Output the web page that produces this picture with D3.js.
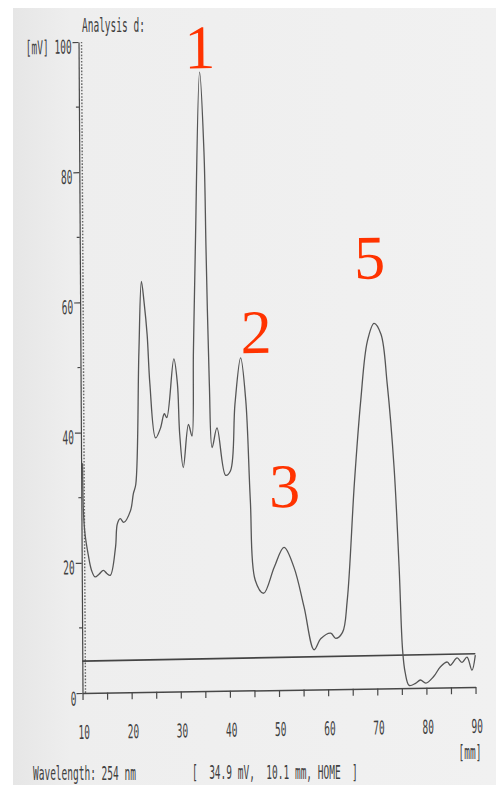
<!DOCTYPE html>
<html>
<head>
<meta charset="utf-8">
<script src="https://cdn.jsdelivr.net/npm/d3@7"></script>
<style>
  html, body { margin: 0; padding: 0; background: #fff; }
  svg { display: block; }
  .prn { font-family: "DejaVu Sans Mono", "Liberation Mono", monospace; font-size: 19px; fill: #3f3f3f; white-space: pre; }
  .peak { font-family: "Liberation Serif", "DejaVu Serif", serif; font-size: 62px; fill: #ff3300; }
</style>
</head>
<body>
<div id="chart"></div>
<script>
// chromatogram trace (retention in mm, signal in mV)
const retentionMM = [10.3, 10.4, 10.7, 11.3, 12.0, 12.7, 13.5, 14.4, 15.1, 15.8, 16.9, 17.3, 17.9, 18.6, 20.0, 20.6, 21.1,
  21.9, 22.5, 23.0, 23.6, 24.1, 25.2, 26.2, 27.0, 27.5, 29.0, 29.7, 30.1, 30.8, 31.9, 32.6, 33.0, 33.5, 34.6, 35.4,
  35.7, 36.2, 36.7, 37.7, 39.4, 40.4, 41.4, 42.6, 43.6, 44.4, 45.3, 47.0, 49.2, 51.2, 53.2, 55.2, 57.2, 58.6, 60.6,
  61.6, 63.0, 64.0, 65.6, 67.0, 68.4, 69.8, 71.2, 72.4, 73.7, 74.6, 75.2, 75.7, 76.5, 77.8, 78.8, 79.9, 81.5, 82.9,
  84.3, 84.9, 86.3, 87.3, 88.3, 89.3, 90.0];
const signalMV = [35.3, 28.1, 24.5, 21.4, 18.8, 17.8, 18.2, 18.8, 18.3, 18.0, 22.3, 25.9, 26.7, 26.1, 27.9, 30.5, 31.9,
  52.2, 63.1, 60.0, 54.9, 47.3, 39.0, 40.5, 42.7, 42.1, 51.1, 47.3, 39.6, 34.4, 41.0, 39.2, 52.2, 67.5, 95.1, 82.7,
  67.5, 47.2, 37.4, 40.4, 33.1, 33.8, 44.1, 51.1, 44.5, 29.2, 16.9, 14.9, 18.9, 21.9, 18.8, 12.7, 6.1, 7.8, 8.6,
  7.8, 8.7, 13.6, 31.6, 44.3, 53.3, 56.1, 54.4, 46.8, 33.9, 18.6, 5.9, 2.4, 0.4, 0.7, 1.2, 0.7, 1.7, 3.2,
  3.9, 3.4, 4.5, 3.8, 4.6, 2.6, 4.9];

// integration baseline drawn by the recorder
const baselineMM = [10, 90];
const baselineMV = [4.9, 5.1];

// axis ticks
const xTicks = [10, 15, 20, 25, 30, 35, 40, 45, 50, 55, 60, 65, 70, 75, 80, 85, 90];
const xLabels = [10, 20, 30, 40, 50, 60, 70, 80, 90];
const yMajor = [0, 20, 40, 60, 80, 100];
const yMinor = [10, 30, 50, 70, 90];

// peak numbers written on the print
const peakNames = ["1", "2", "3", "5"];
const peakMM = [34.7, 45.8, 51.4, 69.0];
const peakMV = [95.7, 51.8, 28.1, 63.0];

const W = 496, H = 785;
const svg = d3.select("#chart").append("svg").attr("width", W).attr("height", H);

// paper
const defs = svg.append("defs");
const grad = defs.append("linearGradient").attr("id", "paper").attr("x1", 0).attr("x2", 1);
grad.append("stop").attr("offset", "0%").attr("stop-color", "#e6e6e6");
grad.append("stop").attr("offset", "12%").attr("stop-color", "#eeeeee");
grad.append("stop").attr("offset", "100%").attr("stop-color", "#f1f1f1");
svg.append("rect").attr("x", 13).attr("y", 8).attr("width", W - 13).attr("height", H - 8).attr("fill", "url(#paper)");

const x = d3.scaleLinear().domain([10, 90]).range([0, 393]);
const y = d3.scaleLinear().domain([0, 100]).range([0, -651]);

// the scan is a little skewed, so the whole plot sits in a sheared frame
const plot = svg.append("g").attr("transform", "matrix(1,-0.0153,0.0061,1,82.5,693)");

const ink = "#474747";

// x axis
const xAxis = plot.append("g")
  .call(d3.axisBottom(x).tickValues(xTicks).tickSize(7).tickSizeOuter(0)
    .tickFormat(d => xLabels.includes(d) ? d : ""));
xAxis.select(".domain").attr("stroke", ink).attr("stroke-width", 1.5);
xAxis.selectAll(".tick line").attr("stroke", ink).attr("stroke-width", 1.2);
xAxis.selectAll(".tick text")
  .attr("class", "prn").attr("y", 0).attr("dy", null)
  .attr("transform", "translate(1,46) scale(0.5,1)");

// y axis
const yAxis = plot.append("g")
  .call(d3.axisLeft(y).tickValues(yMajor).tickSize(6).tickSizeOuter(0)
    .tickFormat(d => d === 100 ? "[mV] 100" : d));
yAxis.select(".domain").attr("stroke", ink).attr("stroke-width", 1.2);
yAxis.selectAll(".tick line").attr("stroke", ink).attr("stroke-width", 1.2);
yAxis.selectAll(".tick text")
  .attr("class", "prn").attr("x", 0).attr("dy", null).attr("y", 0)
  .attr("text-anchor", "end")
  .attr("transform", d => d === 0 ? "translate(-6,12) scale(0.5,1)" : "translate(-7,11) scale(0.5,1)");

plot.append("g").selectAll("line").data(yMinor).join("line")
  .attr("x1", -3).attr("x2", 0)
  .attr("y1", d => y(d)).attr("y2", d => y(d))
  .attr("stroke", ink).attr("stroke-width", 1.2);

// dotted guide beside the y axis
plot.append("line")
  .attr("x1", 3).attr("x2", 3).attr("y1", y(0)).attr("y2", y(100))
  .attr("stroke", "#666").attr("stroke-width", 1.4).attr("stroke-dasharray", "1.6,1.6");

// baseline
const pts = (xs, ys) => xs.map((v, i) => [v, ys[i]]);
plot.append("path")
  .datum(pts(baselineMM, baselineMV))
  .attr("fill", "none").attr("stroke", "#444").attr("stroke-width", 1.6)
  .attr("d", d3.line().x(d => x(d[0])).y(d => y(d[1])));

// trace
plot.append("path")
  .datum(pts(retentionMM, signalMV))
  .attr("fill", "none").attr("stroke", "#555").attr("stroke-width", 1.3)
  .attr("stroke-linejoin", "round")
  .attr("d", d3.line().curve(d3.curveCatmullRom.alpha(0.5)).x(d => x(d[0])).y(d => y(d[1])));

// peak numbers
plot.append("g").selectAll("text").data(peakNames).join("text")
  .attr("class", "peak").attr("text-anchor", "middle")
  .attr("x", (d, i) => x(peakMM[i])).attr("y", (d, i) => y(peakMV[i]))
  .text(d => d);

// printer captions
const caption = (px, py, str, anchor) => svg.append("text")
  .attr("class", "prn").attr("text-anchor", anchor || "start")
  .attr("transform", `translate(${px},${py}) scale(0.5,1)`)
  .text(str);

caption(82, 32, "Analysis d:");
caption(470, 759, "[mm]", "middle");
caption(33, 780, "Wavelength: 254 nm");
caption(192, 779, "[  34.9 mV,  10.1 mm, HOME  ]");
</script>
</body>
</html>
